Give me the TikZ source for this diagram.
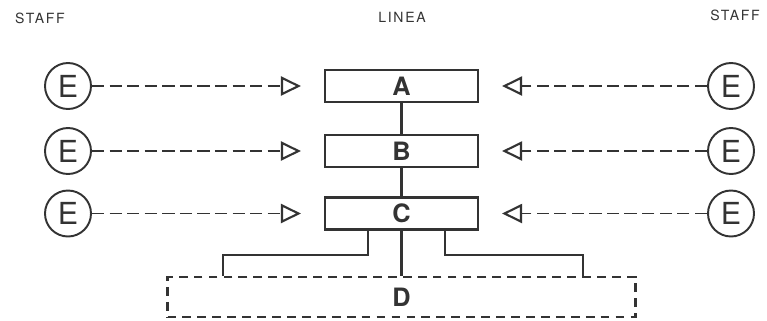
\documentclass[tikz,border=0pt]{standalone}
\usepackage{fontspec}
\setmainfont{TeX Gyre Heros}
\usetikzlibrary{arrows.meta,positioning}
\tikzset{
  linebox/.style={draw, line width=1.2pt, minimum width=3.06cm, minimum height=0.64cm, inner sep=0pt, font=\Large\bfseries},
  staffcirc/.style={draw, circle, line width=1.1pt, minimum size=0.92cm, inner sep=0pt, font=\LARGE},
  staffarrow/.style={line width=1.1pt, dash pattern=on 7pt off 3pt, shorten >=0.46cm,
    -{Triangle[open,length=0.4cm,width=0.38cm,line width=1.2pt,sep=0pt]}},
  head/.style={font=\footnotesize\addfontfeature{LetterSpace=12}},
  branch/.style={line width=1.2pt}
}
\begin{document}
\begin{tikzpicture}[color=black!80]
\useasboundingbox (0,0) rectangle (15.34,6.4);
\node [head] (sl) at (0.8,6.04) {STAFF};
\node [head] (lin) at (8.04,6.06) {LINEA};
\node [head] (sr) at (14.7,6.1) {STAFF};
% linea e staff
\foreach \n/\y in {A/4.68,B/3.38,C/2.13}{
  \node [linebox] (\n) at (8.03,\y) {\n};
  \node [staffcirc] (l\n) at (1.36,\y) {E};
  \node [staffcirc] (r\n) at (14.62,\y) {E};
  \draw [staffarrow] (l\n) -- (\n);
  \draw [staffarrow] (r\n) -- (\n);
}
\draw [branch] (A) -- (B);
\draw [branch] (B) -- (C);
\node [linebox, dash pattern=on 5pt off 3.5pt, minimum width=9.36cm, minimum height=0.8cm] (D) at (8.03,0.46) {D};
% rami verso D
\coordinate (cl) at (4.46,1.30);
\coordinate (cr) at (11.66,1.30);
\draw [branch] (C) -- (D);
\draw [branch] ([xshift=-0.67cm]C.south) |- (cl) -- (cl |- D.north);
\draw [branch] ([xshift=0.87cm]C.south) |- (cr) -- (cr |- D.north);
\end{tikzpicture}
\end{document}
